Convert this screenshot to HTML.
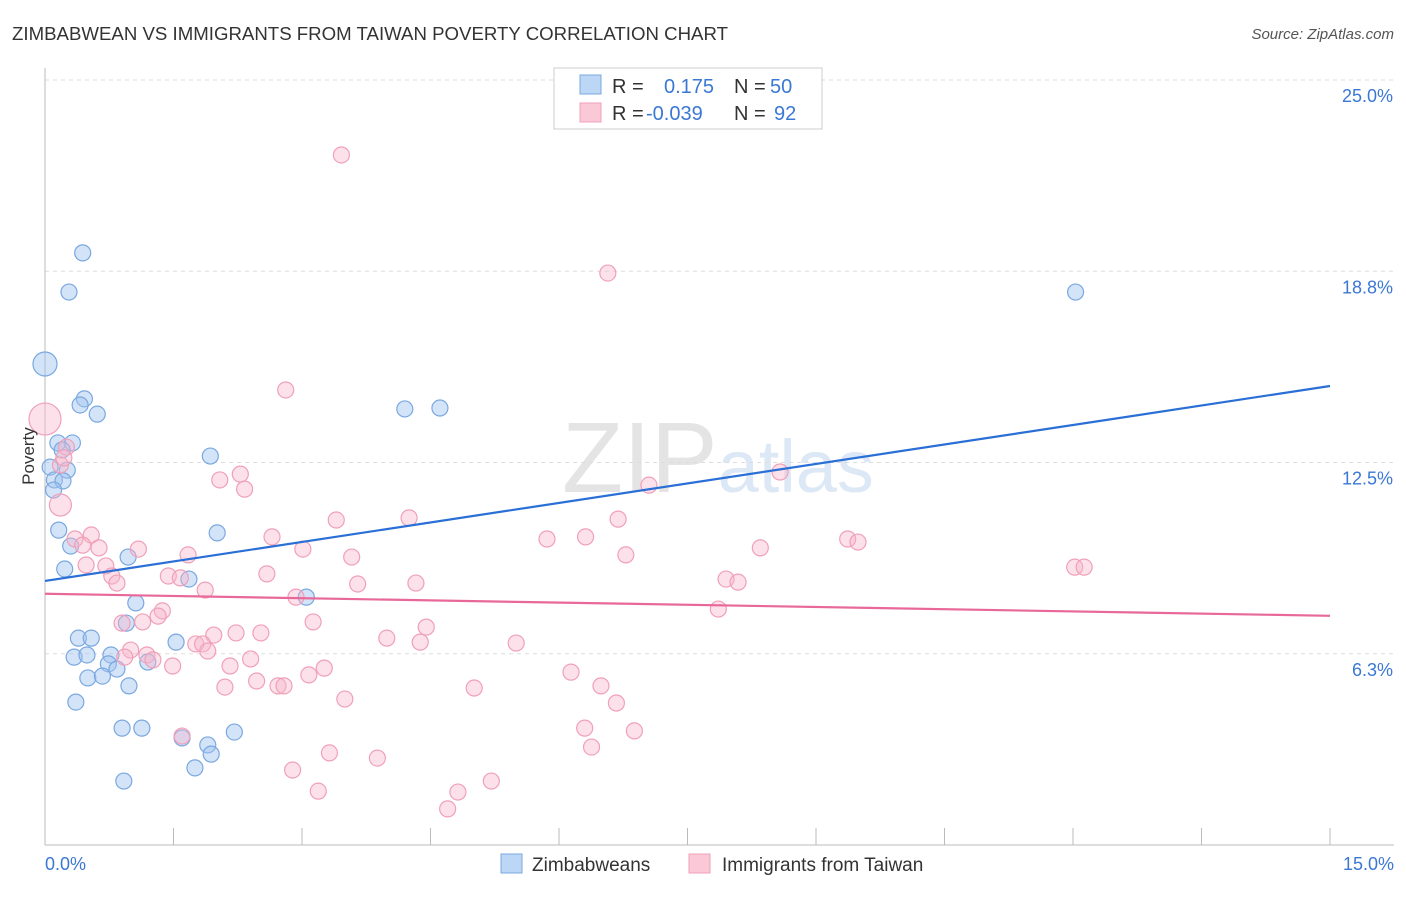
<!DOCTYPE html>
<html><head><meta charset="utf-8"><style>
body{margin:0;background:#fff;font-family:"Liberation Sans",sans-serif;}
svg text{font-family:"Liberation Sans",sans-serif;}
</style></head><body>
<svg id="c" width="1406" height="892" xmlns="http://www.w3.org/2000/svg">
<text x="12" y="40" font-size="18" fill="#333" textLength="716" lengthAdjust="spacingAndGlyphs">ZIMBABWEAN VS IMMIGRANTS FROM TAIWAN POVERTY CORRELATION CHART</text>
<text x="1394" y="39" font-size="15" fill="#555" text-anchor="end" font-style="italic">Source: ZipAtlas.com</text>
<text x="718" y="492" font-size="100" fill="#e4e4e4" text-anchor="middle" font-family="Liberation Serif">ZIP<tspan fill="#dce8f6" font-family="Liberation Sans" font-size="74">atlas</tspan></text>
<g id="grid"></g>
<g id="axes"></g>
<g id="pts"></g>
<g id="lines"></g>
<text x="34" y="456" font-size="17" fill="#333" text-anchor="middle" transform="rotate(-90 34 456)">Poverty</text>
<text x="45" y="870" font-size="18" fill="#3a78d4">0.0%</text>
<text x="1394" y="870" font-size="18" fill="#3a78d4" text-anchor="end">15.0%</text>
<g>
<rect x="554" y="68" width="268" height="61" fill="#fff" stroke="#ccc"/>
<rect x="580" y="75" width="21" height="19" fill="#bcd6f6" stroke="#7aa8e0"/>
<rect x="580" y="103" width="21" height="19" fill="#fbc8d8" stroke="#f0a0b8"/>
<text x="612" y="93" font-size="20" fill="#333">R =</text>
<text x="664" y="93" font-size="20" fill="#3a78d4">0.175</text>
<text x="734" y="93" font-size="20" fill="#333">N =</text>
<text x="770" y="93" font-size="20" fill="#3a78d4">50</text>
<text x="612" y="120" font-size="20" fill="#333">R =</text>
<text x="646" y="120" font-size="20" fill="#3a78d4">-0.039</text>
<text x="734" y="120" font-size="20" fill="#333">N =</text>
<text x="774" y="120" font-size="20" fill="#3a78d4">92</text>
</g>
<g>
<rect x="501" y="854" width="21" height="19" fill="#bcd6f6" stroke="#7aa8e0"/>
<text x="532" y="871" font-size="19" fill="#333">Zimbabweans</text>
<rect x="689" y="854" width="21" height="19" fill="#fbc8d8" stroke="#f0a0b8"/>
<text x="722" y="871" font-size="19" fill="#333">Immigrants from Taiwan</text>
</g>
</svg>
<script>
const yTicks=[6.25,12.5,18.75,25];
const yTickLabels=["6.3%","12.5%","18.8%","25.0%"];
const xTicks=[0,1.5,3,4.5,6,7.5,9,10.5,12,13.5,15];
const blueX=[0,0.44,0.28,0.46,0.41,0.61,0.15,0.32,0.20,0.06,0.26,0.11,0.21,0.10,0.16,0.30,0.23,0.97,1.68,2.01,1.93,1.06,0.95,0.39,0.54,0.34,0.49,0.77,0.74,0.84,1.20,1.53,0.50,0.67,0.98,0.36,0.90,1.13,1.60,1.90,1.94,2.21,1.75,0.92,3.05,4.20,4.61,12.03];
const blueY=[15.72,19.35,18.07,14.58,14.38,14.08,13.14,13.14,12.91,12.35,12.25,11.93,11.90,11.60,10.29,9.77,9.02,9.41,8.69,10.20,12.71,7.91,7.25,6.76,6.76,6.14,6.21,6.21,5.92,5.75,5.98,6.63,5.46,5.52,5.20,4.67,3.82,3.82,3.50,3.27,2.97,3.69,2.52,2.09,8.10,14.25,14.28,18.07];
const pinkX=[0,0.18,0.25,0.18,0.22,3.46,6.57,2.81,2.04,2.28,2.33,8.58,7.05,3.40,4.25,6.69,2.65,5.86,6.31,9.37,9.49,8.35,6.78,3.58,3.01,1.67,1.09,0.54,0.35,0.63,0.44,0.48,0.71,0.78,0.84,1.44,1.58,1.87,2.59,3.65,4.33,7.95,8.09,12.02,12.13,7.86,2.93,1.37,1.32,0.90,1.14,3.13,4.45,1.97,2.23,2.52,1.76,1.84,1.90,3.99,4.38,5.50,1.00,0.93,1.19,1.26,1.49,2.16,2.40,3.26,3.08,6.14,2.47,2.72,2.79,2.10,6.49,5.01,3.50,6.67,6.30,6.88,1.60,6.38,3.32,3.88,2.89,5.21,3.19,4.82,4.70];
const pinkY=[13.92,11.11,13.0,12.42,12.65,22.55,18.69,14.87,11.93,12.12,11.63,12.19,11.76,10.62,10.69,10.65,10.07,10.0,10.07,10.0,9.90,9.71,9.48,9.41,9.67,9.48,9.67,10.13,10.0,9.71,9.80,9.15,9.12,8.79,8.56,8.79,8.73,8.33,8.86,8.53,8.56,8.69,8.59,9.08,9.08,7.71,8.10,7.65,7.48,7.25,7.29,7.29,7.12,6.86,6.93,6.93,6.57,6.57,6.34,6.76,6.63,6.60,6.37,6.14,6.21,6.05,5.85,5.85,6.08,5.78,5.56,5.65,5.36,5.20,5.20,5.16,5.20,5.13,4.77,4.64,3.82,3.73,3.56,3.20,3.01,2.84,2.45,2.09,1.76,1.73,1.18];
const blueR=[12,8,8,8,8,8,8,8,8,8,8,8,8,8];
const pinkR=[16,11];
const blueTrend=[8.63,15.0];
const pinkTrend=[8.21,7.49];
const NS="http://www.w3.org/2000/svg";
const X=v=>45+v*(1285/15);
const Y=v=>845-v*30.6;
function mk(t,a,p){const e=document.createElementNS(NS,t);for(const k in a)e.setAttribute(k,a[k]);document.getElementById(p).appendChild(e);return e;}
yTicks.forEach((t,i)=>{
 const l=mk('line',{x1:45,x2:1394,y1:Y(t),y2:Y(t),stroke:'#ddd','stroke-dasharray':'4,4'},'grid');
 
 
 const tx=mk('text',{x:1393,y:Y(t)+22,'font-size':18,fill:'#3a78d4','text-anchor':'end'},'grid');
 tx.textContent=yTickLabels[i];
 
 
});
const ax=mk('line',{x1:45,x2:1394,y1:845,y2:845,stroke:'#bbb'},'axes');


const ay=mk('line',{x1:45,x2:45,y1:68,y2:845,stroke:'#bbb'},'axes');


xTicks.forEach(t=>{const l=mk('line',{x1:X(t),x2:X(t),y1:828,y2:845,stroke:'#bbb'},'axes');
 
 });
blueX.forEach((v,i)=>{const c=mk('circle',{cx:X(v),cy:Y(blueY[i]),r:blueR[i]||8,fill:'rgba(160,196,240,0.45)',stroke:'#7aa8e0','stroke-width':1.2},'pts');
 
 });
pinkX.forEach((v,i)=>{const c=mk('circle',{cx:X(v),cy:Y(pinkY[i]),r:pinkR[i]||8,fill:'rgba(248,180,202,0.4)',stroke:'#f0a0b8','stroke-width':1.2},'pts');
 
 });
const bl=mk('line',{x1:X(0),x2:X(15),y1:Y(blueTrend[0]),y2:Y(blueTrend[1]),stroke:'#2a6fd6','stroke-width':2.2},'lines');


const pl=mk('line',{x1:X(0),x2:X(15),y1:Y(pinkTrend[0]),y2:Y(pinkTrend[1]),stroke:'#e8689a','stroke-width':2.2},'lines');


</script>
</body></html>
